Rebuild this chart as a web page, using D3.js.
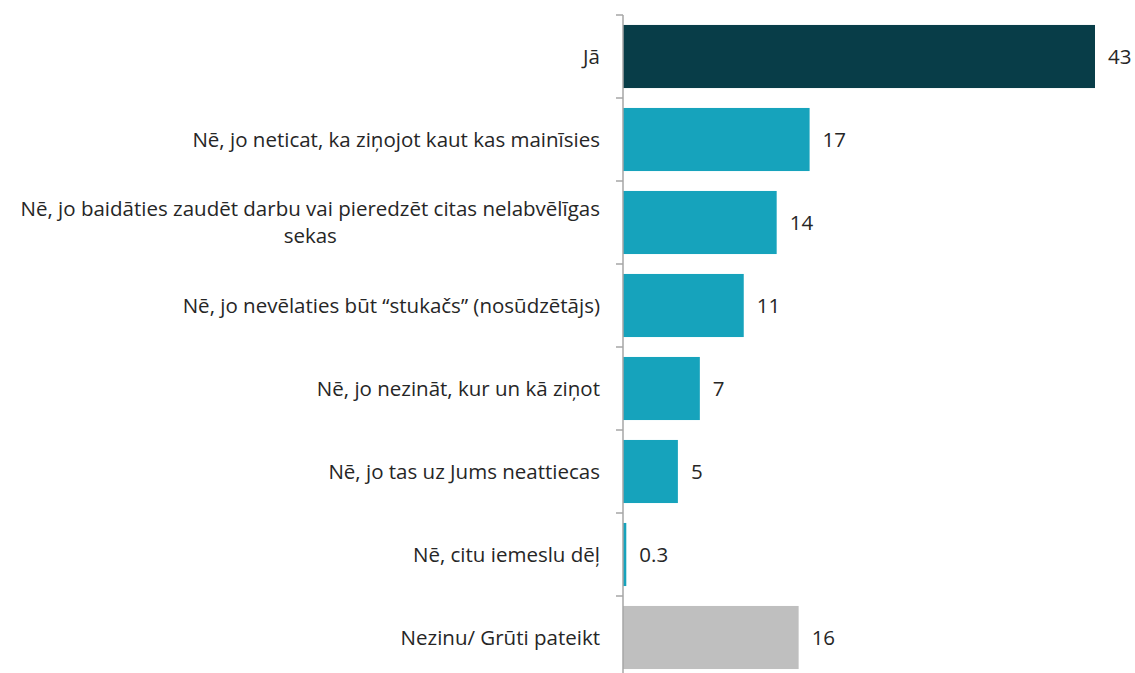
<!DOCTYPE html>
<html>
<head>
<meta charset="utf-8">
<script src="https://cdn.jsdelivr.net/npm/d3@7"></script>
<style>
  body { margin: 0; background: #fff; }
  svg { font-family: "Open Sans", Lato, sans-serif; }
</style>
</head>
<body>
<svg id="chart" width="1135" height="673"></svg>
<script>
const categories = [
  ["Jā"],
  ["Nē, jo neticat, ka ziņojot kaut kas mainīsies"],
  ["Nē, jo baidāties zaudēt darbu vai pieredzēt citas nelabvēlīgas", "sekas"],
  ["Nē, jo nevēlaties būt “stukačs” (nosūdzētājs)"],
  ["Nē, jo nezināt, kur un kā ziņot"],
  ["Nē, jo tas uz Jums neattiecas"],
  ["Nē, citu iemeslu dēļ"],
  ["Nezinu/ Grūti pateikt"]
];
const values = [43, 17, 14, 11, 7, 5, 0.3, 16];
const valueLabels = ["43", "17", "14", "11", "7", "5", "0.3", "16"];
const colors = ["#083d48", "#16a3bc", "#16a3bc", "#16a3bc", "#16a3bc", "#16a3bc", "#16a3bc", "#bfbfbf"];

const svg = d3.select("#chart");
const axisX = 623;
const marginTop = 15;
const rowH = 83;
const fontSize = 20.5;

const y = d3.scaleBand()
  .domain(d3.range(values.length))
  .range([marginTop, marginTop + rowH * values.length])
  .paddingInner(0.24)
  .paddingOuter(0.12);

const x = d3.scaleLinear().domain([0, 43]).range([axisX, 1095]);

// bars
svg.append("g")
  .selectAll("rect")
  .data(values)
  .join("rect")
  .attr("x", x(0))
  .attr("y", (d, i) => y(i))
  .attr("width", d => Math.max(x(d) - x(0), 3))
  .attr("height", y.bandwidth())
  .attr("fill", (d, i) => colors[i]);

// value labels
svg.append("g")
  .selectAll("text")
  .data(values)
  .join("text")
  .attr("x", d => Math.max(x(d), x(0) + 3) + 13)
  .attr("y", (d, i) => y(i) + y.bandwidth() / 2)
  .attr("dy", "0.35em")
  .attr("font-size", fontSize)
  .attr("fill", "#262626")
  .text((d, i) => valueLabels[i]);

// axis line + ticks at band boundaries
const ax = svg.append("g").attr("stroke", "#a6a6a6").attr("stroke-width", 1.5);
ax.append("line")
  .attr("x1", axisX).attr("x2", axisX)
  .attr("y1", marginTop).attr("y2", 673);
ax.selectAll("line.tick")
  .data(d3.range(values.length + 1))
  .join("line")
  .attr("class", "tick")
  .attr("x1", axisX - 7).attr("x2", axisX)
  .attr("y1", i => marginTop + i * rowH)
  .attr("y2", i => marginTop + i * rowH);

// category labels (right-aligned block, lines centered within)
const labelEnd = 600;
const lineH = 27;
svg.append("g")
  .selectAll("g")
  .data(categories)
  .join("g")
  .each(function (lines, i) {
    const g = d3.select(this);
    const cy = y(i) + y.bandwidth() / 2;
    const t = g.selectAll("text")
      .data(lines)
      .join("text")
      .attr("font-size", fontSize)
      .attr("fill", "#262626")
      .attr("y", (d, k) => cy + (k - (lines.length - 1) / 2) * lineH)
      .attr("dy", "0.35em")
      .text(d => d);
    const maxW = d3.max(t.nodes(), n => n.getComputedTextLength());
    t.attr("text-anchor", "middle").attr("x", labelEnd - maxW / 2);
  });
</script>
</body>
</html>
